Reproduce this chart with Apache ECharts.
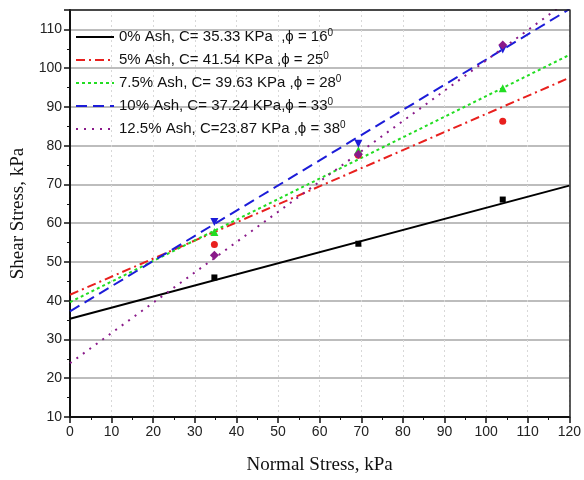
<!DOCTYPE html>
<html>
<head>
<meta charset="utf-8">
<script src="https://cdn.jsdelivr.net/npm/echarts@6/dist/echarts.min.js"></script>
<style>html,body{margin:0;padding:0;background:#fff;}#c{width:584px;height:480px;}</style>
</head>
<body>
<div id="c"></div>
<script>
var seriesNames = [
  "0% Ash, C= 35.33 KPa  ,\u03d5 = 16",
  "5% Ash, C= 41.54 KPa ,\u03d5 = 25",
  "7.5% Ash, C= 39.63 KPa ,\u03d5 = 28",
  "10% Ash, C= 37.24 KPa,\u03d5 = 33",
  "12.5% Ash, C=23.87 KPa ,\u03d5 = 38"
];
var normalStress = [34.7, 69.3, 104];
var ash0 = [46, 54.7, 66.1];
var ash5 = [54.5, 77.5, 86.3];
var ash75 = [57.7, 78.8, 94.8];
var ash10 = [60.3, 80.5, 104.8];
var ash125 = [51.7, 77.8, 106];
var fitX = [0, 120];
var fit0 = [35.33, 69.7];
var fit5 = [41.54, 97.5];
var fit75 = [39.63, 103.4];
var fit10 = [37.24, 115.2];
var fit125 = [23.87, 117.6];

var colors = ['#000000', '#e8201e', '#22dd22', '#1c1cd8', '#8a1a8a'];
var dashes = ['solid', [9, 4, 2, 4], [3, 3], [11, 6], [2, 6]];
var symbols = ['rect', 'circle', 'triangle', 'path://M-1,-1L1,-1L0,1Z', 'diamond'];
var symSizes = [6, 7, 8, 8, 9];
var pts = [ash0, ash5, ash75, ash10, ash125];
var fits = [fit0, fit5, fit75, fit10, fit125];

function pairs(xs, ys) { return xs.map(function (x, i) { return [x, ys[i]]; }); }

var series = [];
for (var i = 0; i < 5; i++) {
  series.push({
    name: seriesNames[i], type: 'line', data: pairs(fitX, fits[i]),
    symbol: 'none', clip: true, z: 2,
    lineStyle: { color: colors[i], width: 2, type: dashes[i] },
    itemStyle: { color: colors[i] }
  });
}
for (var j = 0; j < 5; j++) {
  series.push({
    name: 'pts' + j, type: 'scatter', data: pairs(normalStress, pts[j]),
    symbol: symbols[j], symbolSize: symSizes[j],
    itemStyle: { color: colors[j], opacity: 1 }, z: 3
  });
}

var chart = echarts.init(document.getElementById('c'), null, { renderer: 'canvas' });
chart.setOption({
  animation: false,
  backgroundColor: '#fff',
  grid: { left: 70, right: 12, top: 10, bottom: 63 },
  legend: {
    data: seriesNames, orient: 'vertical', left: 70, top: 23, itemGap: 6.5,
    itemWidth: 38, itemHeight: 15, padding: [5, 5, 5, 5],
    itemStyle: { color: 'rgba(0,0,0,0)', borderWidth: 0, opacity: 0 },
    lineStyle: { width: 2, opacity: 1 },
    textStyle: { fontFamily: 'Liberation Sans, Arial', fontSize: 15, color: '#111',
      rich: { sup: { fontSize: 10, verticalAlign: 'top', padding: [0, 0, 8, 0] } } },
    formatter: function (n) { return n + '{sup|0}'; }
  },
  xAxis: [{
    type: 'value', min: 0, max: 120, interval: 10,
    axisLine: { show: true, lineStyle: { color: '#111', width: 2 } },
    axisTick: { show: true, inside: false, length: 6, lineStyle: { color: '#111', width: 1.5 } },
    minorTick: { show: true, splitNumber: 2, length: 3, lineStyle: { color: '#111' } },
    axisLabel: { fontFamily: 'Liberation Sans, Arial', fontSize: 14, color: '#222', margin: 8 },
    splitLine: { show: true, lineStyle: { color: '#d8d8d8', type: [2, 3], width: 1 } },
    name: 'Normal Stress, kPa', nameLocation: 'middle', nameGap: 39,
    nameTextStyle: { fontFamily: 'Liberation Serif, Times New Roman', fontSize: 19, color: '#111' }
  }, {
    type: 'value', min: 0, max: 120, interval: 10, position: 'top', z: 10,
    axisLine: { show: true, onZero: false, lineStyle: { color: '#222', width: 1.5 } },
    axisTick: { show: false }, axisLabel: { show: false }, splitLine: { show: false }
  }],
  yAxis: [{
    type: 'value', min: 10, max: 115, interval: 10,
    axisLine: { show: true, lineStyle: { color: '#111', width: 2 } },
    axisTick: { show: true, inside: false, length: 6, lineStyle: { color: '#111', width: 1.5 } },
    minorTick: { show: true, splitNumber: 2, length: 3, lineStyle: { color: '#111' } },
    axisLabel: { fontFamily: 'Liberation Sans, Arial', fontSize: 14, color: '#222', margin: 8,
      showMaxLabel: false },
    splitLine: { show: true, lineStyle: { color: '#bdbdbd', width: 2 } },
    name: 'Shear Stress, kPa', nameLocation: 'middle', nameGap: 40, nameRotate: 90,
    nameTextStyle: { fontFamily: 'Liberation Serif, Times New Roman', fontSize: 19, color: '#111' }
  }, {
    type: 'value', min: 10, max: 115, interval: 10, position: 'right', z: 10,
    axisLine: { show: true, onZero: false, lineStyle: { color: '#222', width: 1.5 } },
    axisTick: { show: false }, axisLabel: { show: false }, splitLine: { show: false }
  }],
  series: series
});
</script>
</body>
</html>
